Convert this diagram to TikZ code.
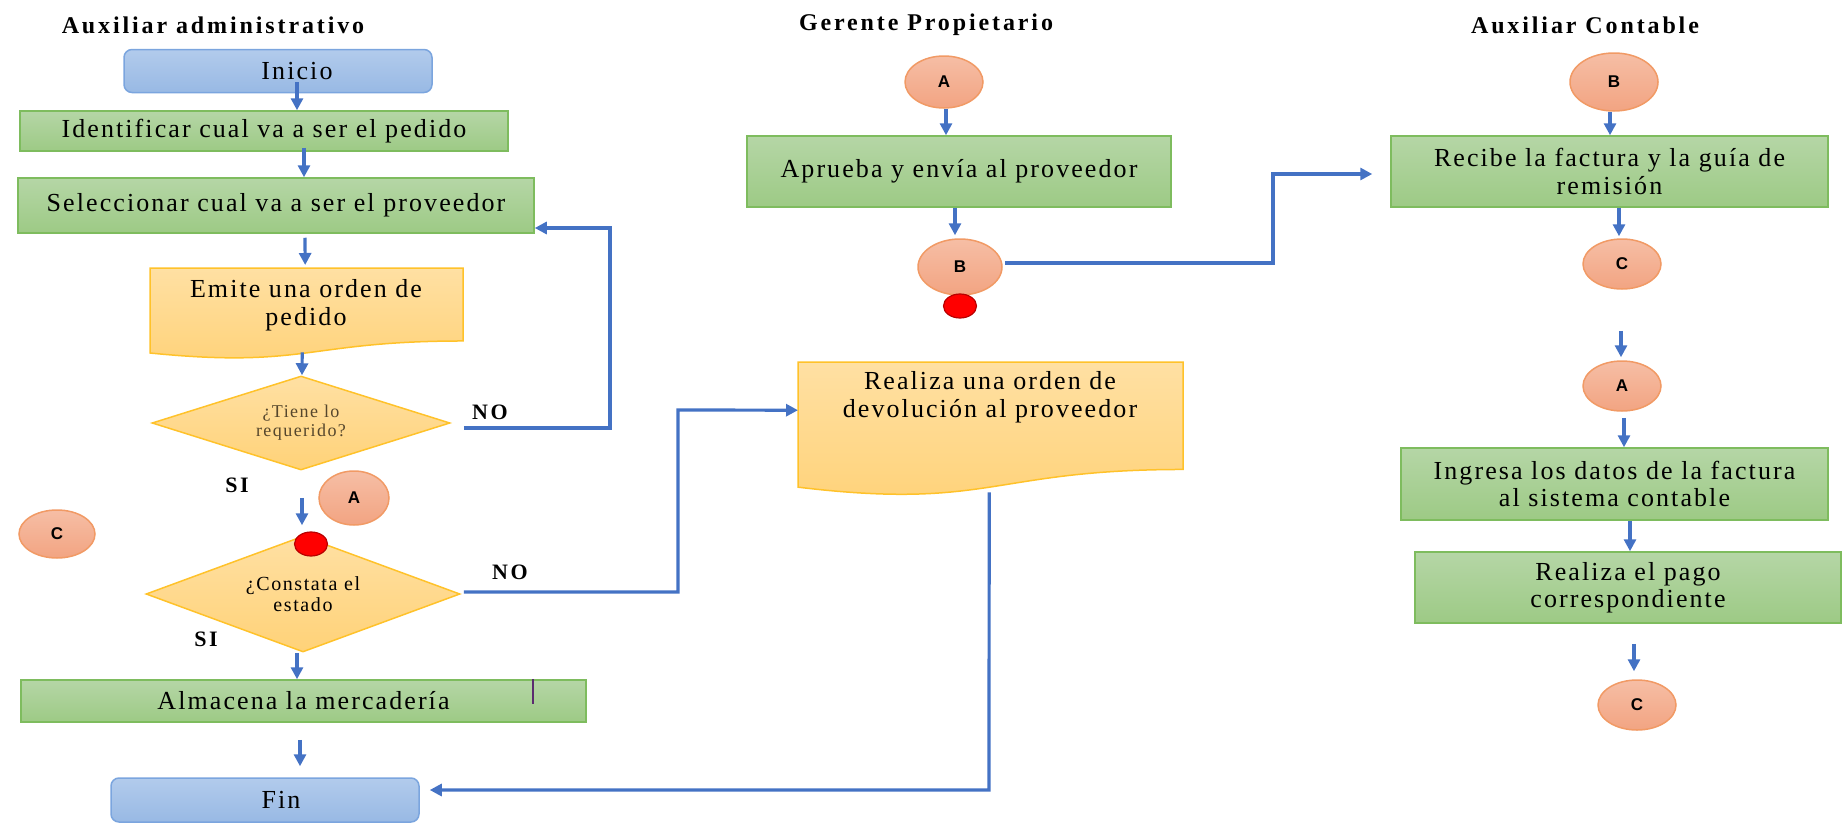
\documentclass[tikz,border=0pt]{standalone}
\usepackage{fontspec}
\setmainfont{Liberation Serif}
\newfontfamily\bxf[LetterSpace=8]{Liberation Serif}
\newfontfamily\ttlf[LetterSpace=12]{Liberation Serif}
\newfontfamily\cirf{Liberation Sans}
\usetikzlibrary{arrows.meta,shapes.geometric,calc}
\definecolor{arrblue}{HTML}{4472C4}
\definecolor{bluetop}{HTML}{B2CBEC}
\definecolor{bluebot}{HTML}{98B9E4}
\definecolor{bluedraw}{HTML}{7BA5DE}
\definecolor{greentop}{HTML}{B5D6A6}
\definecolor{greenbot}{HTML}{9DCA85}
\definecolor{greendraw}{HTML}{7EBC5E}
\definecolor{yeltop}{HTML}{FFE0A3}
\definecolor{yelbot}{HTML}{FFD278}
\definecolor{yeldraw}{HTML}{FFC22A}
\definecolor{ortop}{HTML}{F6BEA5}
\definecolor{orbot}{HTML}{F2A482}
\definecolor{ordraw}{HTML}{F19A65}
\definecolor{reddot}{HTML}{FF0000}
\definecolor{reddraw}{HTML}{B80000}
\definecolor{dtext}{HTML}{55462C}
\definecolor{markc}{HTML}{5B2C6F}
\tikzset{
  arr/.style={draw=arrblue, line width=3.2pt, -{Triangle[length=12pt,width=12pt]}},
  bluebox/.style={rounded corners=8pt, draw=bluedraw, line width=1.5pt, top color=bluetop, bottom color=bluebot, inner sep=0pt, font=\bxf\fontsize{26}{27.5}\selectfont},
  greenbox/.style={draw=greendraw, line width=1.5pt, top color=greentop, bottom color=greenbot, inner sep=0pt, align=center, font=\bxf\fontsize{26}{27.5}\selectfont},
  boxtxt/.style={inner sep=0pt, align=center, font=\bxf\fontsize{26}{27.5}\selectfont},
  diam/.style={diamond, draw=yeldraw, line width=1.5pt, top color=yeltop, bottom color=yelbot, inner sep=0pt, align=center},
  conn/.style={ellipse, draw=ordraw, line width=1.5pt, top color=ortop, bottom color=orbot, inner sep=0pt, font=\cirf\bfseries\fontsize{17}{18}\selectfont},
  rdot/.style={ellipse, draw=reddraw, line width=1.2pt, fill=reddot, inner sep=0pt, minimum width=33pt, minimum height=24pt},
  ttl/.style={inner sep=0pt, font=\ttlf\bfseries\fontsize{24}{26}\selectfont},
  lbl/.style={inner sep=0pt, font=\ttlf\bfseries\fontsize{22}{24}\selectfont},
  docfill/.style={draw=yeldraw, line width=1.5pt, top color=yeltop, bottom color=yelbot}
}
% #1 name, #2 left, #3 top, #4 width, #5 height
\newcommand\docshape[5]{%
  \pgfmathsetmacro\dR{#2+#4}%
  \pgfmathsetmacro\dM{#2+0.5*#4}%
  \pgfmathsetmacro\dBR{#3+0.802*#5}%
  \pgfmathsetmacro\dBL{#3+0.934*#5}%
  \pgfmathsetmacro\dC{#3+1.107*#5}%
  \shade[docfill] (#2,#3) -- (\dR,#3) -- (\dR,\dBR) .. controls (\dM,\dBR) and (\dM,\dC) .. (#2,\dBL) -- cycle;
  \node[inner sep=0pt, minimum width=#4pt, minimum height=#5pt, anchor=north west] (#1) at (#2,#3) {};
}
\begin{document}
\begin{tikzpicture}[x=1pt,y=-1pt]
\useasboundingbox (0,0) rectangle (1842,827);

% titles
\node[ttl] (tAdm) at (213,25) {Auxiliar administrativo};
\node[ttl] (tGer) at (926,25) {Gerente Propietario};
\node[ttl] (tCon) at (1585,25) {Auxiliar Contable};

% ---- Auxiliar administrativo ----
\node[bluebox, minimum width=308pt, minimum height=43pt] (inicio) at (278,71) {\hspace*{38pt}Inicio};
\node[greenbox, minimum width=488pt, minimum height=40pt] (ident) at (264,131) {Identificar cual va a ser el pedido};
\node[greenbox, minimum width=516pt, minimum height=55pt] (selec) at (276,205.5) {Seleccionar cual va a ser el proveedor};
\docshape{emite}{150}{268}{313}{91}
\node[boxtxt] (emiteT) at (306,305) {Emite una orden de\\pedido};
\node[diam, minimum width=298pt, minimum height=94pt, aspect=3.17, text=dtext, font=\bxf\fontsize{18}{19}\selectfont] (d1) at (301,423) {¿Tiene lo\\requerido?};
\node[lbl] (no1) at (490,412) {NO};
\node[lbl] (si1) at (237,485) {SI};
\node[conn, minimum width=70pt, minimum height=54pt] (cA1) at (354,498) {A};
\node[conn, minimum width=76pt, minimum height=48pt] (cC1) at (57,534) {C};
\node[diam, minimum width=314pt, minimum height=116pt, aspect=2.7, font=\bxf\fontsize{20}{21}\selectfont] (d2) at (303,594) {¿Constata el\\estado};
\node[rdot] (red1) at (311,544) {};
\node[lbl] (no2) at (510,572) {NO};
\node[lbl] (si2) at (206,639) {SI};
\node[greenbox, minimum width=565pt, minimum height=42pt] (almac) at (303.5,701) {Almacena la mercadería};
\draw[draw=markc, line width=1.5pt] (533,679) -- (533,704);
\node[bluebox, minimum width=308pt, minimum height=44pt] (fin) at (265,800) {\hspace*{32pt}Fin};

% ---- Gerente Propietario ----
\node[conn, minimum width=78pt, minimum height=52pt] (cA2) at (944,82) {A};
\node[greenbox, minimum width=424pt, minimum height=71pt] (aprueba) at (959,171.5) {Aprueba y envía al proveedor};
\node[conn, minimum width=84pt, minimum height=56pt] (cB1) at (960,267) {B};
\node[rdot] (red2) at (960,306) {};
\docshape{realiza}{798}{362}{385}{134}
\node[boxtxt] (realizaT) at (990,397) {Realiza una orden de\\devolución al proveedor};

% ---- Auxiliar Contable ----
\node[conn, minimum width=88pt, minimum height=58pt] (cB2) at (1614,82) {B};
\node[greenbox, minimum width=437pt, minimum height=71pt] (recibe) at (1609.5,171.5) {Recibe la factura y la guía de\\remisión};
\node[conn, minimum width=78pt, minimum height=50pt] (cC2) at (1622,264) {C};
\node[conn, minimum width=78pt, minimum height=50pt] (cA3) at (1622,386) {A};
\node[greenbox, minimum width=427pt, minimum height=72pt] (ingresa) at (1614.5,484) {Ingresa los datos de la factura\\al sistema contable};
\node[greenbox, minimum width=426pt, minimum height=71pt] (pago) at (1628,587.5) {Realiza el pago\\correspondiente};
\node[conn, minimum width=78pt, minimum height=50pt] (cC3) at (1637,705) {C};

% ---- connectors ----
\draw[arr] ([xshift=19pt,yshift=11pt]inicio.south) -- ([xshift=33pt]ident.north);
\draw[arr] ([xshift=40pt,yshift=4pt]ident.south) -- ([xshift=28pt]selec.north);
\draw[arr] ([xshift=29pt,yshift=-4pt]selec.south) -- ([xshift=-1.5pt,yshift=3pt]emite.north);
\draw[arr] ([xshift=-4.5pt,yshift=7pt]emite.south) -- ([xshift=1pt]d1.north);
\draw[arr] ([xshift=1pt,yshift=-27pt]d1.south) -- ([xshift=-1pt,yshift=10pt]d2.north);
\draw[arr] ([xshift=-6pt]d2.south) -- ([xshift=-6.5pt]almac.north);
\draw[arr] ([xshift=-3.5pt,yshift=-17pt]almac.south) -- ([xshift=35pt,yshift=11pt]fin.north);
\draw[arr] ([xshift=13pt,yshift=-5pt]d1.east) -- (610,428) -- (610,228) -- ([yshift=-22.5pt]selec.east);
\draw[arr] ([xshift=3pt,yshift=2pt]d2.east) -- (678,592) -- (678,410) -- ([yshift=19pt]realiza.west);
\draw[arr] ([xshift=-1.5pt,yshift=4pt]realiza.south) -- (989,790) -- ([xshift=10pt,yshift=10pt]fin.east);

\draw[arr] ([xshift=2pt]cA2.south) -- ([xshift=-13pt]aprueba.north);
\draw[arr] ([xshift=-4pt]aprueba.south) -- ([xshift=-5pt,yshift=3pt]cB1.north);
\draw[arr] ([xshift=2pt,yshift=4pt]cB1.east) -- (1273,263) -- (1273,174) -- ([xshift=-18pt,yshift=-2.5pt]recibe.west);

\draw[arr] ([xshift=-4pt]cB2.south) -- ([xshift=0.5pt]recibe.north);
\draw[arr] ([xshift=9.5pt]recibe.south) -- ([xshift=-3pt,yshift=2pt]cC2.north);
\draw[arr] ([xshift=-1pt,yshift=-41pt]cC2.south) -- ([xshift=-1pt,yshift=3pt]cA3.north);
\draw[arr] ([xshift=2pt,yshift=-6pt]cA3.south) -- ([xshift=9.5pt]ingresa.north);
\draw[arr] ([xshift=15.5pt]ingresa.south) -- ([xshift=2pt]pago.north);
\draw[arr] ([xshift=6pt,yshift=-20pt]pago.south) -- ([xshift=-3pt,yshift=8pt]cC3.north);
\end{tikzpicture}
\end{document}
